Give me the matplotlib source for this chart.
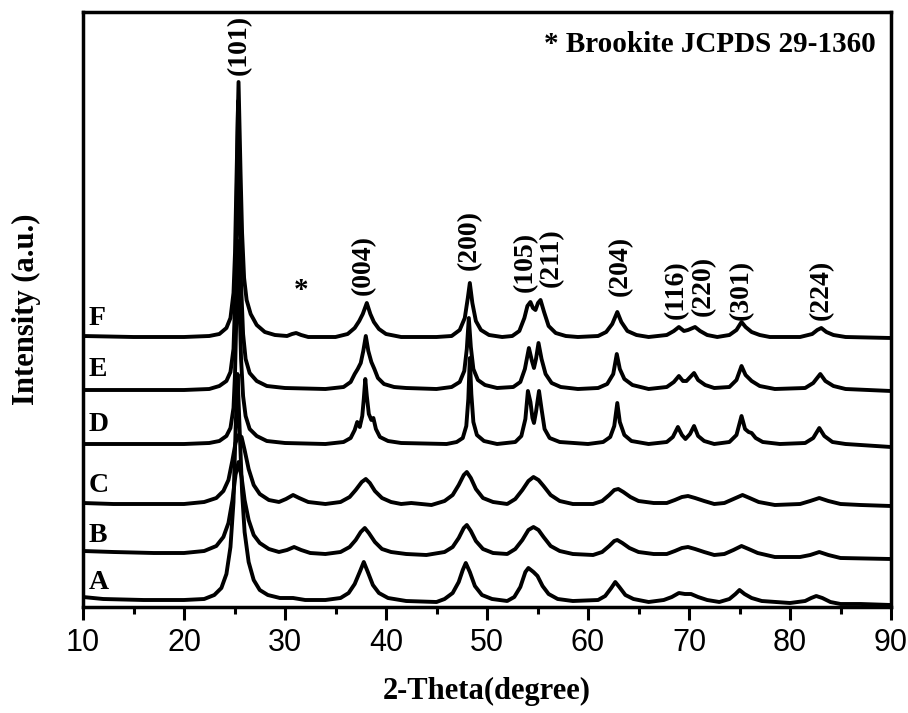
import numpy as np
import matplotlib.pyplot as plt
from matplotlib.ticker import MultipleLocator

# XRD patterns, intensity in arbitrary units (relative to each baseline)
A_tt = [10, 12, 16, 20, 22, 23, 23.7, 24.2, 24.6, 24.9, 25.1, 25.3, 25.5, 25.75, 26.0, 26.4, 26.9, 27.5, 28.3,
        29.5, 30.8, 32, 34, 35.5, 36.3, 36.9, 37.4, 37.8, 38.2, 38.7, 39.3, 40.2, 42, 45, 45.8, 46.6, 47.2,
        47.6, 47.9, 48.3, 48.8, 49.5, 50.5, 52, 52.7, 53.3, 53.8, 54.1, 54.6, 55.0, 55.5, 56.1, 57, 58.5, 61,
        61.7, 62.3, 62.7, 63.1, 63.7, 64.5, 66, 67.5, 68.3, 69.0, 69.6, 70.2, 70.9, 71.8, 73, 74.0, 74.6,
        75.0, 75.5, 76.2, 77.2, 80, 81.5, 82.1, 82.6, 83.2, 84, 85, 87, 90]
A_int = [5, 3, 2, 2, 3, 7, 14, 28, 55, 100, 170, 228, 175, 110, 70, 40, 22, 12, 7,
         4, 4, 2, 2, 4, 9, 18, 30, 40, 30, 17, 9, 4, 1, 0, 3, 9, 20,
         32, 39, 30, 16, 7, 3, 1, 5, 15, 30, 34, 30, 26, 16, 8, 3, 1, 2,
         6, 14, 20, 15, 7, 3, 0, 2, 5, 9, 8, 8, 5, 2, 0, 3, 8,
         12, 8, 4, 1, -1, 1, 4, 6, 4, 0, -2, -2, -3]

B_tt = [10, 13, 17, 20, 22, 23.2, 23.9, 24.4, 24.8, 25.1, 25.4, 25.7, 26.0, 26.4, 26.9, 27.5, 28.4, 29.4,
        30.2, 30.9, 31.6, 32.5, 34, 35.5, 36.4, 37.0, 37.5, 37.9, 38.3, 38.9, 39.6, 40.5, 42, 44, 45.8,
        46.6, 47.2, 47.7, 48.0, 48.4, 48.9, 49.6, 50.6, 52, 52.8, 53.5, 54.1, 54.6, 55.1, 55.6, 56.3, 57.2,
        58.5, 60.5, 61.4, 62.1, 62.6, 62.9, 63.4, 64.1, 65, 66.5, 67.8, 68.6, 69.3, 69.9, 70.6, 71.5, 72.5,
        73.5, 74.4, 75.2, 75.9, 76.8, 78.5, 81, 82.0, 82.9, 83.8, 85, 90]
B_int = [4, 3, 2, 2, 4, 9, 18, 32, 55, 80, 93, 78, 55, 35, 20, 12, 6, 3,
         5, 8, 5, 2, 1, 3, 8, 15, 23, 27, 22, 13, 6, 3, 1, 0, 3,
         8, 17, 27, 30, 24, 14, 6, 2, 1, 6, 15, 25, 28, 25, 18, 9, 4,
         1, 0, 3, 9, 14, 15, 12, 7, 3, 1, 1, 4, 7, 8, 6, 3, 0,
         1, 5, 9, 6, 2, -2, -2, 0, 3, 0, -3, -4]

C_tt = [10, 13, 17, 20, 22, 23.2, 23.9, 24.4, 24.8, 25.1, 25.4, 25.7, 26.0, 26.4, 26.9, 27.5, 28.4, 29.4,
        30.1, 30.8, 31.4, 32.3, 34, 35.5, 36.4, 37.0, 37.6, 38.0, 38.4, 38.9, 39.6, 40.5, 41.5, 42.5, 43.5,
        44.5, 45.8, 46.6, 47.2, 47.7, 48.0, 48.4, 48.9, 49.6, 50.6, 52, 52.8, 53.5, 54.1, 54.6, 55.1, 55.6,
        56.3, 57.2, 58.5, 60.5, 61.4, 62.1, 62.6, 63.0, 63.5, 64.2, 65, 66.5, 67.8, 68.6, 69.3, 69.9, 70.6,
        71.5, 72.5, 73.5, 74.4, 75.3, 76.0, 76.9, 78.5, 81, 82.0, 82.9, 83.8, 85, 87, 90]
C_int = [2, 1, 1, 1, 3, 7, 14, 25, 45, 62, 70, 68, 55, 36, 20, 11, 5, 3,
         6, 10, 7, 3, 1, 3, 8, 15, 23, 26, 22, 14, 7, 3, 1, 2, 1,
         0, 4, 10, 20, 30, 33, 27, 16, 7, 3, 1, 6, 15, 24, 28, 25, 19,
         10, 4, 1, 1, 4, 10, 15, 16, 13, 8, 4, 2, 2, 5, 8, 9, 7,
         4, 1, 2, 6, 10, 7, 3, 0, 1, 4, 7, 4, 1, 0, -1]

D_tt = [10, 15, 20, 22.5, 23.5, 24.2, 24.6, 24.9, 25.05, 25.2, 25.35, 25.5, 25.65, 25.85, 26.1, 26.5, 27.2,
        28.2, 30, 34, 35.8, 36.5, 36.9, 37.15, 37.4, 37.65, 37.8, 37.95, 38.1, 38.3, 38.55, 38.75, 39.0,
        39.4, 40.2, 41.5, 46, 47.0, 47.6, 47.95, 48.15, 48.3, 48.45, 48.65, 49.0, 49.7, 51, 52.8, 53.4,
        53.8, 54.05, 54.3, 54.5, 54.65, 54.85, 55.15, 55.4, 55.7, 56.2, 57.2, 60, 61.5, 62.2, 62.6, 62.9,
        63.15, 63.6, 64.3, 66, 67.8, 68.4, 68.9, 69.3, 69.65, 70.1, 70.5, 70.9, 71.5, 72.5, 74.0, 74.7,
        75.2, 75.55, 75.9, 76.2, 76.6, 77.3, 79, 81.5, 82.3, 82.9, 83.4, 84.2, 85.5, 90]
D_int = [0, 0, 0, 1, 3, 8, 16, 36, 70, 135, 203, 140, 85, 48, 28, 15, 8,
         3, 1, 0, 2, 6, 14, 22, 17, 28, 45, 65, 48, 30, 24, 26, 15,
         7, 3, 1, 0, 2, 6, 18, 45, 86, 50, 22, 9, 3, 0, 2, 8,
         25, 53, 42, 26, 21, 32, 53, 35, 15, 6, 2, 0, 2, 7, 18, 41,
         22, 9, 3, 0, 2, 7, 17, 9, 5, 10, 18, 8, 3, 0, 2, 9,
         28, 15, 12, 11, 6, 2, 0, 1, 6, 16, 8, 2, 0, -3]

E_tt = [10, 15, 20, 22.5, 23.5, 24.2, 24.6, 24.9, 25.05, 25.2, 25.35, 25.5, 25.65, 25.85, 26.1, 26.5, 27.2,
        28.2, 30, 34, 35.8, 36.5, 36.9, 37.2, 37.5, 37.75, 38.0, 38.25, 38.55, 38.85, 39.2, 39.8, 40.8, 42,
        45, 46.5, 47.3, 47.75, 48.0, 48.2, 48.4, 48.65, 49.1, 49.8, 51, 52.6, 53.3, 53.75, 54.15, 54.45,
        54.65, 54.85, 55.1, 55.4, 55.8, 56.4, 57.3, 59, 61, 61.9, 62.5, 62.85, 63.15, 63.6, 64.4, 66, 67.8,
        68.5, 69.0, 69.4, 69.75, 70.5, 70.9, 71.6, 72.5, 74.0, 74.7, 75.2, 75.6, 76.2, 77, 78.5, 81.5, 82.3,
        83.0, 83.5, 84.3, 85.5, 90]
E_int = [-1, -1, -1, 0, 3, 8, 17, 40, 85, 175, 288, 180, 105, 55, 30, 16, 8,
         3, 1, 0, 2, 7, 15, 20, 26, 38, 53, 38, 27, 20, 11, 5, 2, 1,
         0, 2, 7, 18, 40, 71, 42, 20, 9, 4, 1, 2, 7, 20, 41, 28,
         21, 30, 46, 30, 15, 6, 2, 0, 1, 5, 15, 35, 20, 10, 4, 0, 2,
         7, 13, 8, 8, 16, 9, 4, 1, 2, 9, 23, 14, 8, 3, 0, 1, 6,
         15, 8, 3, 0, -2]

F_tt = [10, 15, 20, 22.5, 23.5, 24.2, 24.6, 24.9, 25.05, 25.2, 25.4, 25.6, 25.75, 25.95, 26.2, 26.6, 27.2,
        28.0, 29.0, 30.2, 30.7, 31.1, 31.6, 32.3, 35, 36.2, 36.9, 37.35, 37.7, 38.1, 38.45, 38.8, 39.3, 40,
        41.5, 45, 46.5, 47.3, 47.8, 48.1, 48.3, 48.55, 48.9, 49.4, 50.2, 51.5, 52.5, 53.2, 53.7, 54.0, 54.3,
        54.55, 54.8, 55.05, 55.3, 55.65, 56.1, 56.8, 57.8, 59, 61, 61.8, 62.4, 62.9, 63.3, 63.9, 64.8, 66,
        67.8, 68.5, 69.0, 69.5, 69.9, 70.6, 71.1, 71.8, 72.8, 74.0, 74.7, 75.2, 75.6, 76.2, 77, 78, 81, 82.2,
        82.7, 83.1, 83.6, 84.3, 85.5, 90]
F_int = [2, 1, 1, 2, 4, 10, 20, 45, 85, 160, 256, 165, 105, 60, 38, 24, 13,
         6, 3, 2, 4, 5, 3, 1, 1, 4, 10, 17, 24, 35, 24, 16, 9, 4,
         1, 1, 2, 8, 20, 40, 55, 35, 17, 8, 3, 1, 2, 7, 20, 32, 36,
         30, 28, 35, 38, 26, 12, 5, 2, 1, 2, 6, 14, 26, 16, 7, 3, 1,
         3, 7, 11, 7, 8, 11, 7, 3, 1, 3, 8, 16, 11, 6, 3, 1, 1, 4,
         8, 10, 6, 3, 1, 0]

names = ['A', 'B', 'C', 'D', 'E', 'F']
offsets = [5, 52, 102, 163, 218, 269]

hkl_labels = ['(101)', '(004)', '(200)', '(105)', '(211)', '(204)', '(116)', '(220)', '(301)', '(224)']
hkl_pos = [25.45, 37.8, 48.3, 53.75, 56.35, 63.2, 68.7, 71.4, 75.2, 83.1]
hkl_y = [562, 342, 367, 345, 349, 341, 317, 321, 317, 317]

plt.rcParams['font.family'] = ['Liberation Serif', 'DejaVu Serif']

fig = plt.figure(figsize=(9.08, 7.13), dpi=100)
ax = fig.add_axes([83 / 908, (713 - 607) / 713, 808 / 908, 595 / 713])

data = [(A_tt, A_int), (B_tt, B_int), (C_tt, C_int), (D_tt, D_int), (E_tt, E_int), (F_tt, F_int)]
for (tt, inten), off, name in zip(data, offsets, names):
    ax.plot(tt, np.array(inten) + off, color='black', linewidth=2.8,
            solid_joinstyle='round', solid_capstyle='round')
    ax.text(10.55, off + 7, name, fontsize=20, fontweight='bold', ha='left', va='bottom')

for lab, xp, yp in zip(hkl_labels, hkl_pos, hkl_y):
    ax.text(xp, yp, lab, rotation=90, fontsize=20, fontweight='bold', ha='center', va='center')

ax.text(31.6, 317, '*', fontsize=21, fontweight='bold', ha='center', va='center')
ax.text(88.5, 563, '* Brookite JCPDS 29-1360', fontsize=21, fontweight='bold', ha='right', va='center')

ax.set_xlim(10, 90)
ax.set_ylim(0, 595)
ax.set_yticks([])
ax.xaxis.set_major_locator(MultipleLocator(10))
ax.xaxis.set_minor_locator(MultipleLocator(5))
ax.tick_params(axis='x', which='major', direction='out', length=9, width=2.2, pad=6)
ax.tick_params(axis='x', which='minor', direction='out', length=5, width=2.2)
for lbl in ax.get_xticklabels():
    lbl.set_fontfamily(['Liberation Sans Narrow', 'Liberation Sans'])
    lbl.set_fontsize(22)
for sp in ax.spines.values():
    sp.set_linewidth(2.5)

ax.set_xlabel('2-Theta(degree)', fontsize=22, fontweight='bold', labelpad=14)
ax.set_ylabel('Intensity (a.u.)', fontsize=22, fontweight='bold', labelpad=30)

fig.savefig('out.png', dpi=100)
